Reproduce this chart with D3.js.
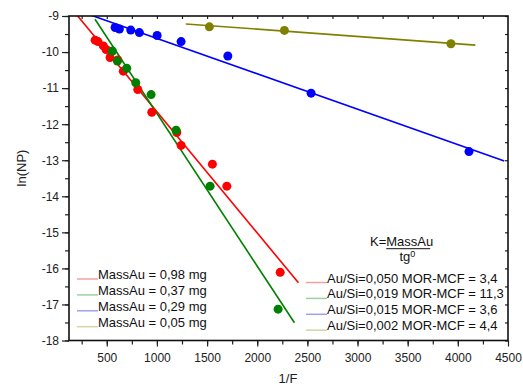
<!DOCTYPE html>
<html><head><meta charset="utf-8">
<script src="https://cdn.jsdelivr.net/npm/d3@7"></script>
<style>body{margin:0;background:#fff}svg{display:block;font-family:Arial,"Liberation Sans",sans-serif}</style>
</head><body><svg id="c" width="523" height="387"></svg>
<script>
const xTicks = [500,1000,1500,2000,2500,3000,3500,4000,4500];
const yTicks = [-9,-10,-11,-12,-13,-14,-15,-16,-17,-18];
const seriesNames = ["MassAu = 0,98 mg","MassAu = 0,37 mg","MassAu = 0,29 mg","MassAu = 0,05 mg"];
const kNames = ["Au/Si=0,050 MOR-MCF = 3,4","Au/Si=0,019 MOR-MCF = 11,3","Au/Si=0,015 MOR-MCF = 3,6","Au/Si=0,002 MOR-MCF = 4,4"];
const colors = ["#ff0000","#008000","#0000ff","#808000"];
const legendColors = ["#f4a0a0","#a0d0a0","#a0a0f0","#d4d4a8"];
const redX = [384,412,466,493,533,609,665,809,949,1198,1241,1553,1697,2229];
const redY = [-9.67,-9.71,-9.83,-9.93,-10.15,-10.22,-10.53,-11.04,-11.67,-12.23,-12.59,-13.11,-13.72,-16.11];
const greenX = [556,606,699,789,942,1191,1530,2208];
const greenY = [-9.97,-10.25,-10.45,-10.85,-11.18,-12.17,-13.72,-17.13];
const blueX = [583,626,739,825,1002,1241,1707,2537,4111];
const blueY = [-9.32,-9.36,-9.39,-9.46,-9.54,-9.71,-10.11,-11.14,-12.76];
const oliveX = [1523,2271,3931];
const oliveY = [-9.30,-9.40,-9.77];
// fit lines: slope, intercept, x start, x end
const fitSlope = [-0.003362,-0.004235,-0.000981,-0.000204];
const fitIntercept = [-8.294,-7.468,-8.641,-8.957];
const fitX0 = [150,383,300,1288];
const fitX1 = [2411,2371,4463,4174];

const svg = d3.select("#c");
const L=69, R=508, T=16, B=340.5;
const x = d3.scaleLinear().domain([123.5,4500]).range([L,R]);
const y = d3.scaleLinear().domain([-18,-9]).range([B,T]);

const xs=[redX,greenX,blueX,oliveX], ys=[redY,greenY,blueY,oliveY];

svg.append("defs").append("clipPath").attr("id","clip").append("rect")
  .attr("x",L).attr("y",T).attr("width",R-L).attr("height",B-T);

const g = svg.append("g").attr("clip-path","url(#clip)");
const line = d3.line().x(d=>x(d[0])).y(d=>y(d[1]));
fitSlope.forEach((s,i)=>{
  const pts=[[fitX0[i],fitIntercept[i]+s*fitX0[i]],[fitX1[i],fitIntercept[i]+s*fitX1[i]]];
  g.append("path").attr("d",line(pts)).attr("stroke",colors[i]).attr("stroke-width",1.6).attr("fill","none");
});
xs.forEach((arr,i)=>{
  svg.append("g").selectAll("circle").data(arr.map((v,j)=>[v,ys[i][j]])).join("circle")
    .attr("cx",d=>x(d[0])).attr("cy",d=>y(d[1])).attr("r",4.5).attr("fill",colors[i]);
});

// axes
const minorX = d3.range(250,4500,250), minorY = d3.range(-18,-8.9,0.5);
const ax = svg.append("g").attr("transform",`translate(0,${B})`)
  .call(d3.axisBottom(x).tickValues(minorX).tickSize(4).tickFormat(""));
ax.select(".domain").remove();
const ax2 = svg.append("g").attr("transform",`translate(0,${B})`)
  .call(d3.axisBottom(x).tickValues(xTicks).tickSize(6).tickPadding(7).tickFormat(d3.format("d")));
ax2.select(".domain").remove();
const ay = svg.append("g").attr("transform",`translate(${L},0)`)
  .call(d3.axisLeft(y).tickValues(minorY).tickSize(4).tickFormat(""));
ay.select(".domain").remove();
const ay2 = svg.append("g").attr("transform",`translate(${L},0)`)
  .call(d3.axisLeft(y).tickValues(yTicks).tickSize(7).tickPadding(3).tickFormat(d=>String(d)));
ay2.select(".domain").remove();
// mirror axes inward
const at = svg.append("g").attr("transform",`translate(0,${T})`)
  .call(d3.axisBottom(x).tickValues(minorX).tickSize(3).tickFormat(""));
at.select(".domain").remove();
const ar = svg.append("g").attr("transform",`translate(${R},0)`)
  .call(d3.axisLeft(y).tickValues(minorY).tickSize(3).tickFormat(""));
ar.select(".domain").remove();
svg.selectAll(".tick text").attr("font-size",12).attr("fill","#222").attr("font-family","Arial, 'Liberation Sans', sans-serif");
svg.selectAll(".tick line").attr("stroke","#222").attr("stroke-width",1.2);
svg.append("rect").attr("x",L).attr("y",T).attr("width",R-L).attr("height",B-T)
  .attr("fill","none").attr("stroke","#111").attr("stroke-width",1.6);

svg.append("text").attr("transform",`translate(26,168) rotate(-90)`).attr("text-anchor","middle")
  .attr("font-size",13).attr("fill","#222").text("ln(NP)");
svg.append("text").attr("x",288).attr("y",383).attr("text-anchor","middle")
  .attr("font-size",13).attr("fill","#222").text("1/F");

// legends
const lg1 = svg.append("g");
seriesNames.forEach((n,i)=>{
  const yy = 279 + i*15.9;
  lg1.append("line").attr("x1",77).attr("x2",98).attr("y1",yy).attr("y2",yy).attr("stroke",legendColors[i]).attr("stroke-width",1.5);
  lg1.append("text").attr("x",98).attr("y",yy).attr("font-size",13).attr("fill","#111").text(n);
});
const lg2 = svg.append("g");
kNames.forEach((n,i)=>{
  const yy = 282.5 + i*15.9;
  lg2.append("line").attr("x1",306).attr("x2",327).attr("y1",yy).attr("y2",yy).attr("stroke",legendColors[i]).attr("stroke-width",1.5);
  lg2.append("text").attr("x",327).attr("y",yy).attr("font-size",13).attr("fill","#111").text(n);
});
// formula
const kt = svg.append("text").attr("x",370).attr("y",245.5).attr("font-size",13).attr("fill","#111");
kt.append("tspan").text("K=");
kt.append("tspan").attr("id","num").text("MassAu");
const nb = document.getElementById("num").getComputedTextLength();
const kw = kt.node().getComputedTextLength();
svg.append("line").attr("x1",370+kw-nb).attr("x2",370+kw-3).attr("y1",248.7).attr("y2",248.7).attr("stroke","#111").attr("stroke-width",1);
const tg = svg.append("text").attr("x",399.5).attr("y",261).attr("font-size",13).attr("fill","#111");
tg.append("tspan").text("tg");
tg.append("tspan").attr("font-size",9).attr("dy",-4).text("0");
</script></body></html>
